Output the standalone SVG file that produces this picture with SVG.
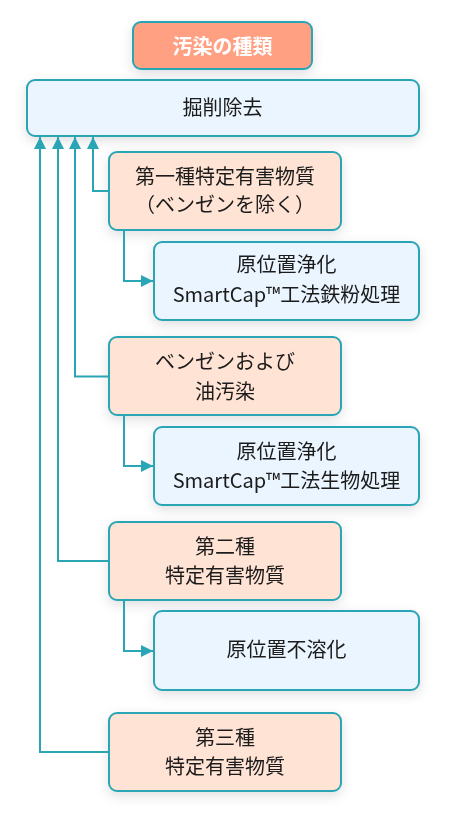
<svg xmlns="http://www.w3.org/2000/svg" width="452" height="825" viewBox="0 0 452 825">
<defs>
<filter id="sh" x="-20%" y="-30%" width="140%" height="170%">
<feDropShadow dx="0" dy="4" stdDeviation="6" flood-color="#000" flood-opacity="0.12"/>
</filter>
<marker id="ah" viewBox="0 0 12 12" refX="12" refY="6" markerWidth="12" markerHeight="12" markerUnits="userSpaceOnUse" orient="auto">
<path d="M0,0 L12,6 L0,12 z" fill="#2AA5B5"/>
</marker>
</defs>
<style>
.box{stroke:#2AA5B5;stroke-width:2}
.sal{fill:#FFE3D4}
.blu{fill:#EAF5FF}
.t{font-family:"Noto Sans CJK JP","Noto Sans",sans-serif;font-size:20px;fill:#1a1a1a;text-anchor:middle}
.c{fill:none;stroke:#2AA5B5;stroke-width:2}
</style>
<g id="title" filter="url(#sh)">
<rect x="133" y="22" width="179" height="47" rx="8" fill="#FFA083" class="box"/>
<text x="222.5" y="54" class="t" style="fill:#fff;font-weight:bold">汚染の種類</text>
</g>
<g id="kussaku" filter="url(#sh)">
<rect x="27" y="80" width="392" height="56" rx="8" class="box blu"/>
<text x="222.5" y="115" class="t">掘削除去</text>
</g>
<g id="dai1" filter="url(#sh)">
<rect x="109" y="152" width="232" height="78" rx="8" class="box sal"/>
<text x="225" y="184" class="t">第一種特定有害物質</text>
<text x="225" y="212" class="t">（ベンゼンを除く）</text>
</g>
<g id="tetsu" filter="url(#sh)">
<rect x="154" y="242" width="265" height="78" rx="8" class="box blu"/>
<text x="286.5" y="272" class="t">原位置浄化</text>
<text x="286.5" y="302" class="t">SmartCap™工法鉄粉処理</text>
</g>
<g id="benzen" filter="url(#sh)">
<rect x="109" y="337" width="232" height="78" rx="8" class="box sal"/>
<text x="225" y="369" class="t">ベンゼンおよび</text>
<text x="225" y="399" class="t">油汚染</text>
</g>
<g id="seibutsu" filter="url(#sh)">
<rect x="154" y="427" width="265" height="78" rx="8" class="box blu"/>
<text x="286.5" y="459" class="t">原位置浄化</text>
<text x="286.5" y="488" class="t">SmartCap™工法生物処理</text>
</g>
<g id="dai2" filter="url(#sh)">
<rect x="109" y="522" width="232" height="78" rx="8" class="box sal"/>
<text x="225" y="554" class="t">第二種</text>
<text x="225" y="583" class="t">特定有害物質</text>
</g>
<g id="fuyouka" filter="url(#sh)">
<rect x="154" y="611" width="265" height="79" rx="8" class="box blu"/>
<text x="286.5" y="657" class="t">原位置不溶化</text>
</g>
<g id="dai3" filter="url(#sh)">
<rect x="109" y="713" width="232" height="78" rx="8" class="box sal"/>
<text x="225" y="745" class="t">第三種</text>
<text x="225" y="774" class="t">特定有害物質</text>
</g>
<g id="connectors">
<path class="c" d="M109,191 H93 V137" marker-end="url(#ah)"/>
<path class="c" d="M109,376.5 H75 V137" marker-end="url(#ah)"/>
<path class="c" d="M109,561 H58 V137" marker-end="url(#ah)"/>
<path class="c" d="M109,752 H40 V137" marker-end="url(#ah)"/>
<path class="c" d="M124,230 V281 H153" marker-end="url(#ah)"/>
<path class="c" d="M124,415 V466 H153" marker-end="url(#ah)"/>
<path class="c" d="M124,600 V651 H153" marker-end="url(#ah)"/>
</g>
</svg>
